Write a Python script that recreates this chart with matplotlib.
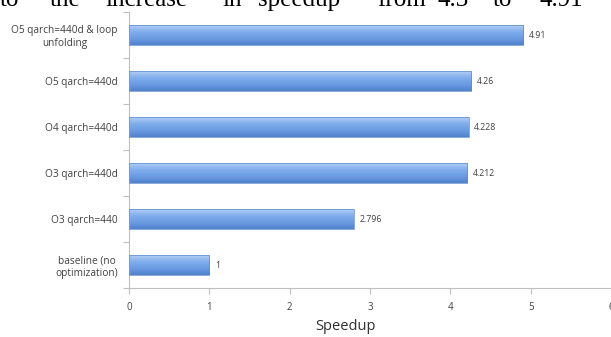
import matplotlib.pyplot as plt
import numpy as np
from matplotlib.colors import LinearSegmentedColormap

# data, bottom to top as drawn
configs = ['baseline (no\noptimization)', 'O3 qarch=440', 'O3 qarch=440d',
           'O4 qarch=440d', 'O5 qarch=440d', 'O5 qarch=440d & loop\nunfolding']
speedup = [1, 2.796, 4.212, 4.228, 4.26, 4.91]
speedup_labels = ['1', '2.796', '4.212', '4.228', '4.26', '4.91']

# body text line of the paper, cut at the top of the crop
words = ['to', 'the', 'increase', 'in', 'speedup', 'from', '4.3', 'to', '4.91']
word_x = [0, 50, 105, 222, 258, 377, 438, 493, 540]

W, H = 611, 337
fig = plt.figure(figsize=(W / 100, H / 100), dpi=100)
ax = fig.add_axes([129 / W, 1 - 288 / H, (611 - 129) / W, (288 - 12) / H])

grad = LinearSegmentedColormap.from_list('bar', ['#5082cc', '#6a9be3', '#80aeec', '#b0cdf5'])
ypos = np.arange(len(configs))
bh = 0.42
bars = ax.barh(ypos, speedup, height=bh, color='none', edgecolor='#5b88cc', linewidth=0.5, zorder=3)
for b in bars:
    x0, y0 = b.get_x(), b.get_y()
    w, h = b.get_width(), b.get_height()
    img = ax.imshow(np.linspace(0, 1, 64).reshape(-1, 1), cmap=grad, aspect='auto',
                    extent=(x0, x0 + w, y0, y0 + h), origin='lower', zorder=2)
    img.set_clip_path(b)

for y, v, lab in zip(ypos, speedup, speedup_labels):
    ax.text(v + 0.07, y, lab, va='center', ha='left', fontsize=6.3, color='#404040',
            family='Open Sans')

ax.set_xlim(0, 6 * (611 - 129) / (612 - 129))
ax.set_ylim(-0.5, len(configs) - 0.5)
ax.set_xticks(range(0, 7))
ax.set_xticklabels([str(i) for i in range(0, 7)], fontsize=7, color='#404040', family='Open Sans')
ax.set_yticks(ypos)
ax.set_yticklabels(configs, fontsize=7.3, color='#404040', family='Open Sans', multialignment='center')
ax.set_yticks(np.arange(-0.5, len(configs), 1), minor=True)
ax.tick_params(axis='y', which='major', length=0, pad=8)
ax.tick_params(axis='y', which='minor', length=4, color='#bfbfbf', width=0.8)
ax.tick_params(axis='x', length=4, color='#bfbfbf', width=0.8, pad=6)
for s in ['top', 'right']:
    ax.spines[s].set_visible(False)
for s in ['left', 'bottom']:
    ax.spines[s].set_color('#bfbfbf')
    ax.spines[s].set_linewidth(0.8)

fig.text(346 / W, 1 - 327 / H, 'Speedup', ha='center', va='center', fontsize=10.5,
         color='#303030', family='Open Sans')

for wd, x in zip(words, word_x):
    fig.text(x / W, 1 - 6 / H, wd, ha='left', va='baseline', fontsize=18,
             family='Liberation Serif', color='black')

fig.savefig('out.png', dpi=100)
